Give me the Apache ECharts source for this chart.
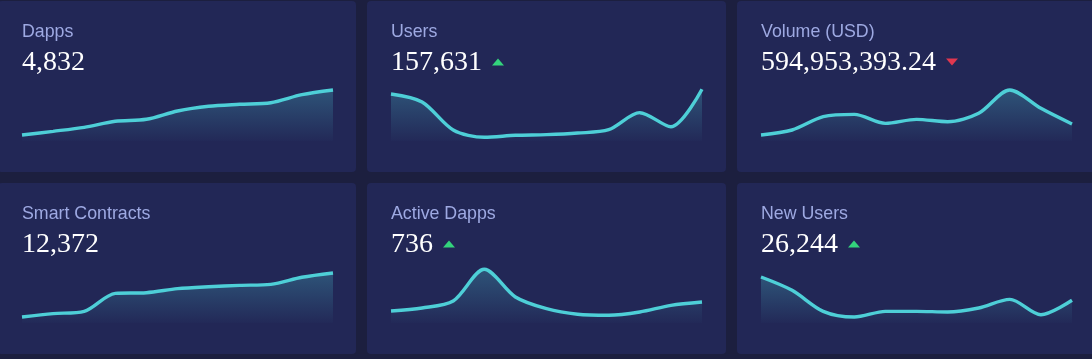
<!DOCTYPE html>
<html>
<head>
<meta charset="utf-8">
<script src="https://cdn.jsdelivr.net/npm/echarts@6/dist/echarts.min.js"></script>
<style>
  html, body { margin: 0; padding: 0; background: #1c1f3f; }
  #chart { width: 1092px; height: 359px; }
</style>
</head>
<body>
<div id="chart"></div>
<script>
// ---- data ----
const days = ['1', '2', '3', '4', '5', '6', '7', '8', '9', '10', '11'];
const cardTitles = ['Dapps', 'Users', 'Volume (USD)', 'Smart Contracts', 'Active Dapps', 'New Users'];
const cardValues = ['4,832', '157,631', '594,953,393.24', '12,372', '736', '26,244'];
const cardTrends = ['none', 'up', 'down', 'none', 'up', 'up'];
// relative index values (0-100 scale) read from the sparklines
const dappsValues     = [10.9, 17.6, 24.9, 35.8, 39.5, 54.5, 63.1, 66.7, 69.6, 84.2, 92.7];
const usersValues     = [85.5, 70.9, 20.0, 6.7, 10.4, 11.5, 14.5, 20.5, 51.5, 26.0, 94.0];
const volumeValues    = [10.9, 20.0, 44.2, 48.5, 32.1, 39.4, 35.1, 50.3, 92.7, 59.4, 30.9];
const contractsValues = [10.9, 17.0, 21.2, 53.9, 55.1, 62.4, 66.0, 68.5, 70.3, 83.1, 90.9];
const activeValues    = [21.8, 27.3, 40.0, 97.6, 47.3, 26.0, 15.8, 14.0, 20.0, 32.1, 38.2];
const newUsersValues  = [83.6, 59.4, 21.2, 10.9, 21.2, 21.2, 20.0, 27.3, 43.0, 15.1, 41.3];
const seriesData = [dappsValues, usersValues, volumeValues, contractsValues, activeValues, newUsersValues];

// ---- layout ----
const cardX = [-2, 367, 737];
const cardY = [1, 183];
const cardW = 359, cardH = 171;
const padL = 24;
const lineColor = '#4ecfd7';
const titleColor = '#9ea9e2';
const upColor = '#33d47c';
const downColor = '#e0374f';
const titleFont = '17.8px "Liberation Sans", Arial, sans-serif';
const valueFont = '28px "Liberation Serif", "Times New Roman", serif';

const measureCtx = document.createElement('canvas').getContext('2d');
measureCtx.font = valueFont;

const grids = [], xAxes = [], yAxes = [], series = [], graphics = [];
seriesData.forEach(function (vals, i) {
  const col = i % 3, row = Math.floor(i / 3);
  const cx = cardX[col], cy = cardY[row];
  const left = cx + padL;
  graphics.push({
    type: 'rect', z: -10,
    shape: { x: cx, y: cy, width: col === 0 ? cardW - 1 : cardW, height: cardH, r: 4 },
    style: { fill: '#222756' }
  });
  graphics.push({
    type: 'text', x: left, y: cy + 31,
    style: { text: cardTitles[i], font: titleFont, fill: titleColor, verticalAlign: 'middle', textAlign: 'left' }
  });
  graphics.push({
    type: 'text', x: left, y: cy + 62,
    style: { text: cardValues[i], font: valueFont, fill: '#ffffff', verticalAlign: 'middle', textAlign: 'left' }
  });
  if (cardTrends[i] !== 'none') {
    const tx = left + measureCtx.measureText(cardValues[i]).width + 10;
    const top = cy + 57.5, bot = cy + 64.5;
    const pts = cardTrends[i] === 'up'
      ? [[tx, bot], [tx + 12, bot], [tx + 6, top]]
      : [[tx, top], [tx + 12, top], [tx + 6, bot]];
    graphics.push({
      type: 'polygon',
      shape: { points: pts },
      style: { fill: cardTrends[i] === 'up' ? upColor : downColor }
    });
  }
  grids.push({ left: left, top: cy + 85, width: 311, height: 55 });
  xAxes.push({ type: 'category', gridIndex: i, data: days, boundaryGap: false, show: false });
  yAxes.push({ type: 'value', gridIndex: i, min: 0, max: 100, show: false, splitLine: { show: false } });
  series.push({
    type: 'line', xAxisIndex: i, yAxisIndex: i, data: vals,
    smooth: 0.3, showSymbol: false, symbol: 'none',
    lineStyle: { color: lineColor, width: 3.4 },
    areaStyle: {
      color: new echarts.graphic.LinearGradient(0, 0, 0, 1, [
        { offset: 0, color: 'rgba(78,207,215,0.38)' },
        { offset: 1, color: 'rgba(78,207,215,0.02)' }
      ])
    }
  });
});

const chart = echarts.init(document.getElementById('chart'), null, { renderer: 'canvas' });
chart.setOption({
  backgroundColor: '#1c1f3f',
  animation: false,
  grid: grids,
  xAxis: xAxes,
  yAxis: yAxes,
  series: series,
  graphic: graphics
});
</script>
</body>
</html>
